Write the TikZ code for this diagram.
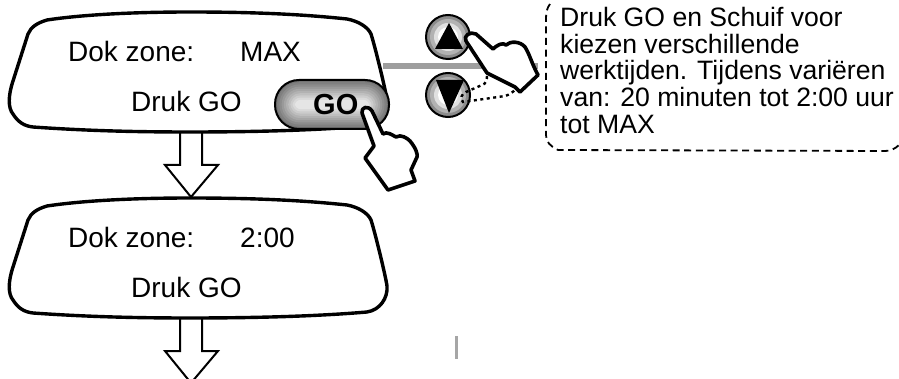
\documentclass[tikz,border=0pt]{standalone}
\usepackage{fontspec}
\setmainfont{Liberation Sans}
\tikzset{
  paneltext/.style={anchor=base west, inner sep=0pt, font=\fontsize{28}{28}\selectfont},
  panelline/.style={draw=black, fill=white, line width=3.4pt, line join=round},
  blockarrow/.style={draw=black, fill=white, line width=2pt, line join=miter},
  handline/.style={draw=black, fill=white, line width=3.6pt, line join=round},
  ghostline/.style={draw=black, line width=2.4pt, dash pattern=on 3pt off 3.5pt},
}
\begin{document}
\begin{tikzpicture}[x=1pt, y=-1pt]
  \useasboundingbox (0,0) rectangle (899,379);

  % Grey bar behind the keys
  \fill[black!38] (383,63) rectangle (538,69);
  \fill[black!35] (455,336) rectangle (457.5,359);

  % Panels and the block arrows below them
  \foreach \i/\y in {1/0, 2/186} {
    \coordinate (arrow\i) at (191,133+\y);
    \draw[blockarrow] (arrow\i) ++(-11,0) -- ++(0,32) -- ++(-15,0) -- ++(26,32)
      -- ++(27,-32) -- ++(-16,0) -- ++(0,-32);
    \draw[panelline] (190,12+\y) .. controls (130,12+\y) and (80,15+\y) .. (47,20+\y)
      .. controls (37,23+\y) and (31,27+\y) .. (28,34+\y)
      -- (13,81+\y) .. controls (8,96+\y) and (8,108+\y) .. (13,114+\y)
      .. controls (18,122+\y) and (24,126+\y) .. (33,127+\y)
      .. controls (90,131+\y) and (140,132+\y) .. (190,132+\y)
      .. controls (260,132+\y) and (320,130+\y) .. (367,126+\y)
      .. controls (380,124+\y) and (388,112+\y) .. (387,100+\y)
      .. controls (386,92+\y) and (376,50+\y) .. (371,34+\y)
      .. controls (368,27+\y) and (358,21+\y) .. (347,19+\y)
      .. controls (300,14+\y) and (250,12+\y) .. (190,12+\y) -- cycle;
  }

  % Panel texts
  \node[paneltext] (zone1) at (68,61.7) {Dok zone:};
  \node[paneltext] (time1) at (240,61.7) {MAX};
  \node[paneltext] (press1) at (131,112) {Druk GO};
  \node[paneltext] (zone2) at (68,247.7) {Dok zone:};
  \node[paneltext] (time2) at (240,247.7) {2:00};
  \node[paneltext] (press2) at (131,298) {Druk GO};

  % GO button
  \foreach \k in {0,...,9} {
    \pgfmathtruncatemacro{\shade}{55-5*\k}
    \fill[black!\shade, rounded corners=24pt-2pt*\k]
      (275+\k*2.2,80+\k*2.2) rectangle (389-\k*2.2,129-\k*2.2);
  }
  \draw[line width=2pt, rounded corners=24pt] (275,80) rectangle (389,129);
  \node[paneltext, font=\fontsize{29}{29}\selectfont\bfseries] (go) at (313,115) {GO};

  % Up and down keys
  \foreach \n/\y in {up/37, down/95} {
    \foreach \r/\c in {22/45, 18/30, 14/12, 10/0} {
      \fill[black!\c] (448,\y) circle (\r);
    }
    \draw[line width=2pt] (448,\y) circle (22);
    \coordinate (key\n) at (448,\y);
  }
  \fill[black] (449,23) -- (463,49) -- (435,49) -- cycle;
  \fill[black] (436,80) -- (464,80) -- (449,113) -- cycle;

  % Hand on the GO button
  \draw[handline] (362,113) .. controls (361,107) and (368,105) .. (372,111)
    -- (383,134) .. controls (387,131) and (392,135) .. (396,137)
    .. controls (401,134) and (407,138) .. (410,141)
    .. controls (416,148) and (418,155) .. (417,157)
    -- (411,170) -- (415,181) -- (388,190) -- (365,158) -- (374,146) -- cycle;

  % Hand on the up key
  \draw[handline] (466,41) .. controls (463,36) and (470,31) .. (476,34)
    -- (493,49) .. controls (497,45) and (503,42) .. (506,45)
    .. controls (510,41) and (520,41) .. (525,47)
    .. controls (530,55) and (531,62) .. (538,75)
    -- (520,92) -- (515,87) -- (487,73) -- cycle;
  \draw[ghostline] (487,76) .. controls (487,80) and (486,84) .. (482,85)
    -- (466,92) .. controls (461,94) and (460,99) .. (463,102)
    -- (505,96) .. controls (509,95) and (513,92) .. (516,89);

  % Note on the right
  \draw[line width=1.8pt, dash pattern=on 7pt off 4.6pt] (550,4)
    .. controls (547,8) and (546,12) .. (546,20) -- (546,135)
    .. controls (546,142) and (550,146) .. (558,150) -- (885,151)
    .. controls (890,151) and (895,149) .. (899,145);
  \node[paneltext, anchor=north west, align=left,
    font=\fontsize{26.6}{26.7}\selectfont] (note) at (560,7)
    {Druk GO en Schuif voor\\kiezen verschillende\\werktijden. Tijdens variëren\\van: 20 minuten tot 2:00 uur\\tot MAX};
\end{tikzpicture}
\end{document}
